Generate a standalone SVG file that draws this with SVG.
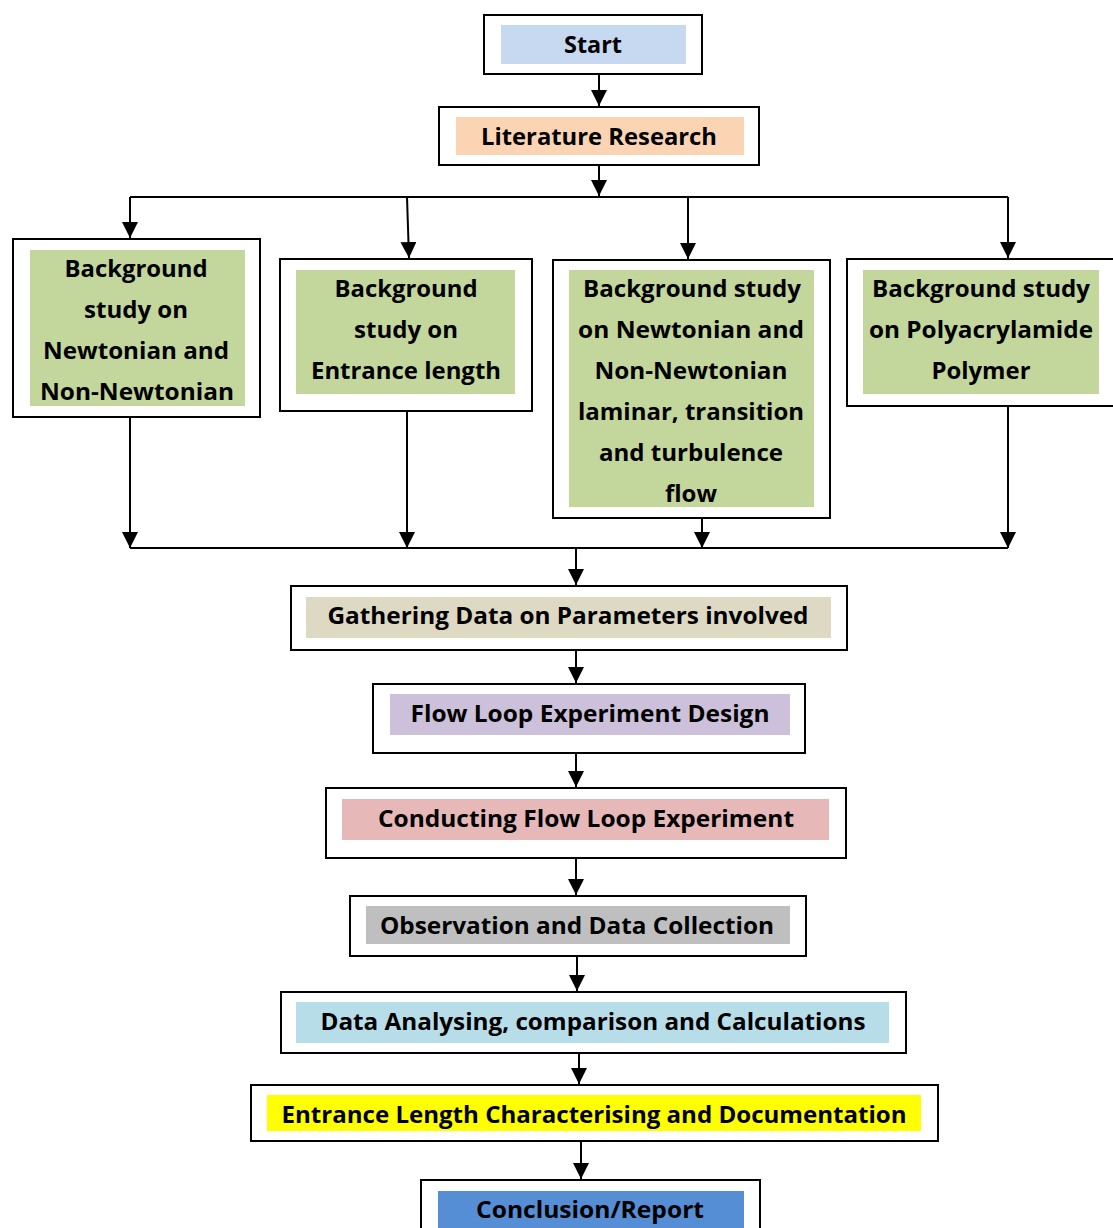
<svg xmlns="http://www.w3.org/2000/svg" width="1113" height="1228" viewBox="0 0 1113 1228">
<defs>
<marker id="ah" markerUnits="userSpaceOnUse" markerWidth="18" markerHeight="16" refX="16" refY="8" orient="auto">
<path d="M0,0 L16,8 L0,16 Z" fill="#000"/>
</marker>
<style>
.box{fill:#fff;stroke:#000;stroke-width:2}
.t{font-family:"Open Sans","Liberation Sans",sans-serif;font-weight:bold;font-size:24px;fill:#000;text-anchor:middle}
.c{fill:none;stroke:#000;stroke-width:2}
.ca{fill:none;stroke:#000;stroke-width:2;marker-end:url(#ah)}
</style>
</defs>
<rect width="1113" height="1228" fill="#fff"/>

<g id="connectors">
<line class="ca" x1="599" y1="74" x2="599" y2="106"/>
<line class="ca" x1="599" y1="165" x2="599" y2="196"/>
<line class="c" x1="130" y1="197" x2="1008" y2="197"/>
<line class="ca" x1="130" y1="197" x2="130" y2="238"/>
<line class="ca" x1="407" y1="197" x2="409" y2="258"/>
<line class="ca" x1="688" y1="197" x2="688" y2="259"/>
<line class="ca" x1="1008" y1="197" x2="1008" y2="258"/>
<line class="ca" x1="130" y1="417" x2="130" y2="548"/>
<line class="ca" x1="407" y1="411" x2="407" y2="548"/>
<line class="ca" x1="702" y1="518" x2="702" y2="548"/>
<line class="ca" x1="1008" y1="406" x2="1008" y2="548"/>
<line class="c" x1="130" y1="548" x2="1008" y2="548"/>
<line class="ca" x1="576" y1="548" x2="576" y2="585"/>
<line class="ca" x1="576" y1="650" x2="576" y2="683"/>
<line class="ca" x1="576" y1="753" x2="576" y2="787"/>
<line class="ca" x1="576" y1="858" x2="576" y2="895"/>
<line class="ca" x1="577" y1="956" x2="577" y2="991"/>
<line class="ca" x1="579" y1="1053" x2="579" y2="1084"/>
<line class="ca" x1="581" y1="1141" x2="581" y2="1179"/>
</g>

<g id="start">
<rect class="box" x="484" y="15" width="218" height="59"/>
<rect x="501" y="25" width="185" height="39" fill="#C6D9F1"/>
<text class="t" x="593" y="53" textLength="58" lengthAdjust="spacingAndGlyphs">Start</text>
</g>

<g id="literature">
<rect class="box" x="439" y="107" width="320" height="58"/>
<rect x="456" y="117" width="288" height="38" fill="#FBD4B4"/>
<text class="t" x="599" y="145" textLength="236" lengthAdjust="spacingAndGlyphs">Literature Research</text>
</g>

<g id="bg1">
<rect class="box" x="13" y="239" width="247" height="178"/>
<rect x="30" y="250" width="215" height="156" fill="#C3D69B"/>
<text class="t" x="136" y="277" textLength="143" lengthAdjust="spacingAndGlyphs">Background</text>
<text class="t" x="136" y="318" textLength="104" lengthAdjust="spacingAndGlyphs">study on</text>
<text class="t" x="136" y="359" textLength="186" lengthAdjust="spacingAndGlyphs">Newtonian and</text>
<text class="t" x="137" y="400" textLength="194" lengthAdjust="spacingAndGlyphs">Non-Newtonian</text>
</g>

<g id="bg2">
<rect class="box" x="280" y="259" width="252" height="152"/>
<rect x="296" y="270" width="219" height="124" fill="#C3D69B"/>
<text class="t" x="406" y="297" textLength="143" lengthAdjust="spacingAndGlyphs">Background</text>
<text class="t" x="406" y="338" textLength="104" lengthAdjust="spacingAndGlyphs">study on</text>
<text class="t" x="406" y="379" textLength="190" lengthAdjust="spacingAndGlyphs">Entrance length</text>
</g>

<g id="bg3">
<rect class="box" x="553" y="260" width="277" height="258"/>
<rect x="569" y="270" width="245" height="237" fill="#C3D69B"/>
<text class="t" x="692" y="297" textLength="218" lengthAdjust="spacingAndGlyphs">Background study</text>
<text class="t" x="691" y="338" textLength="226" lengthAdjust="spacingAndGlyphs">on Newtonian and</text>
<text class="t" x="691" y="379" textLength="193" lengthAdjust="spacingAndGlyphs">Non-Newtonian</text>
<text class="t" x="691" y="420" textLength="226" lengthAdjust="spacingAndGlyphs">laminar, transition</text>
<text class="t" x="691" y="461" textLength="184" lengthAdjust="spacingAndGlyphs">and turbulence</text>
<text class="t" x="691" y="502" textLength="52" lengthAdjust="spacingAndGlyphs">flow</text>
</g>

<g id="bg4">
<rect class="box" x="847" y="259" width="280" height="147"/>
<rect x="863" y="270" width="236" height="124" fill="#C3D69B"/>
<text class="t" x="981" y="297" textLength="218" lengthAdjust="spacingAndGlyphs">Background study</text>
<text class="t" x="981" y="338" textLength="224" lengthAdjust="spacingAndGlyphs">on Polyacrylamide</text>
<text class="t" x="981" y="379" textLength="99" lengthAdjust="spacingAndGlyphs">Polymer</text>
</g>

<g id="gathering">
<rect class="box" x="291" y="586" width="556" height="64"/>
<rect x="306" y="597" width="525" height="41" fill="#DDD9C3"/>
<text class="t" x="568" y="624" textLength="481" lengthAdjust="spacingAndGlyphs">Gathering Data on Parameters involved</text>
</g>

<g id="design">
<rect class="box" x="373" y="684" width="432" height="69"/>
<rect x="390" y="694" width="400" height="41" fill="#CCC0DA"/>
<text class="t" x="590" y="722" textLength="359" lengthAdjust="spacingAndGlyphs">Flow Loop Experiment Design</text>
</g>

<g id="conducting">
<rect class="box" x="326" y="788" width="520" height="70"/>
<rect x="342" y="799" width="487" height="41" fill="#E6B8B7"/>
<text class="t" x="586" y="827" textLength="416" lengthAdjust="spacingAndGlyphs">Conducting Flow Loop Experiment</text>
</g>

<g id="observation">
<rect class="box" x="350" y="896" width="456" height="60"/>
<rect x="366" y="906" width="424" height="38" fill="#BFBFBF"/>
<text class="t" x="577" y="934" textLength="394" lengthAdjust="spacingAndGlyphs">Observation and Data Collection</text>
</g>

<g id="analysing">
<rect class="box" x="281" y="992" width="625" height="61"/>
<rect x="296" y="1002" width="593" height="41" fill="#B7DEE8"/>
<text class="t" x="593" y="1030" textLength="545" lengthAdjust="spacingAndGlyphs">Data Analysing, comparison and Calculations</text>
</g>

<g id="characterising">
<rect class="box" x="251" y="1085" width="687" height="56"/>
<rect x="267" y="1095" width="654" height="36" fill="#FFFF00"/>
<text class="t" x="594" y="1123" textLength="625" lengthAdjust="spacingAndGlyphs">Entrance Length Characterising and Documentation</text>
</g>

<g id="conclusion">
<rect class="box" x="421" y="1180" width="339" height="60"/>
<rect x="438" y="1191" width="306" height="45" fill="#558ED5"/>
<text class="t" x="590" y="1218" textLength="228" lengthAdjust="spacingAndGlyphs">Conclusion/Report</text>
</g>
</svg>
